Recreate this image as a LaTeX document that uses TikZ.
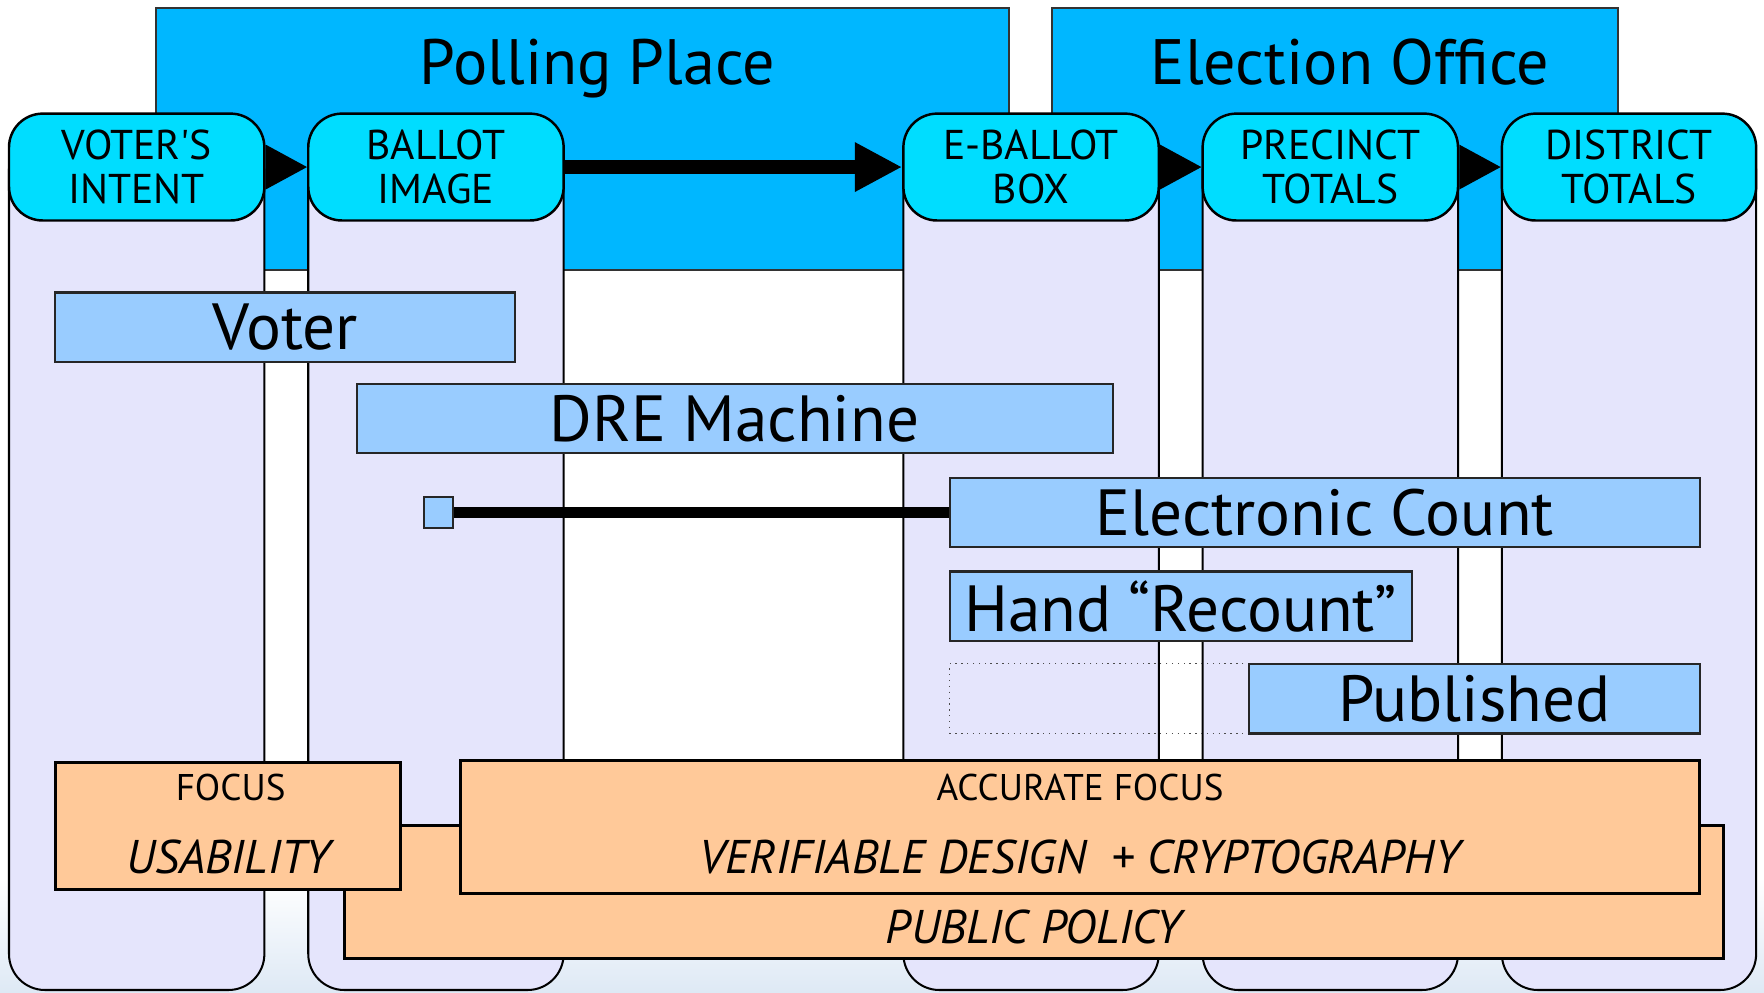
\documentclass[tikz,border=0pt]{standalone}
\usepackage{fontspec}
\setmainfont{PT Sans}
\usetikzlibrary{arrows.meta,calc,fit}
\definecolor{place}{RGB}{0,183,255}
\definecolor{head}{RGB}{0,221,255}
\definecolor{lane}{RGB}{229,229,252}
\definecolor{bar}{RGB}{153,204,255}
\definecolor{orng}{RGB}{255,201,153}
\definecolor{bgblue}{RGB}{222,233,245}
\begin{document}
\begin{tikzpicture}[x=0.5pt,y=-0.5pt,
  placebox/.style={draw=black!80, line width=0.8pt, fill=place},
  lanebody/.style={draw=black, line width=0.9pt, fill=lane, rounded corners=16pt},
  headbox/.style={draw=black, line width=1.1pt, fill=head, rounded corners=15pt, inner sep=0pt},
  headtext/.style={align=center, inner sep=0pt, font=\fontsize{18.5}{19.5}\selectfont},
  barbox/.style={draw=black!85, line width=0.9pt, fill=bar, inner sep=0pt},
  bartext/.style={inner sep=0pt, font=\fontsize{29}{30}\selectfont},
  dotbox/.style={draw=black!70, line width=0.6pt, dotted},
  focusbox/.style={draw=black, line width=1.3pt, fill=orng, inner sep=0pt},
  titletext/.style={font=\fontsize{28.5}{30}\selectfont, anchor=base},
  smalltext/.style={font=\fontsize{16.5}{17}\selectfont},
  bigtext/.style={font=\fontsize{21}{22}\selectfont\itshape},
]
\useasboundingbox (0,0) rectangle (1568,882);
\fill[white] (0,0) rectangle (1568,882);
\shade[top color=white, bottom color=bgblue] (0,780) rectangle (1568,882);

% location boxes
\node[placebox, inner sep=0pt, fit={(139,7)(897,240)}] (polling) {};
\node[titletext] at (531,75) {Polling Place};
\node[placebox, inner sep=0pt, fit={(935,7)(1438,240)}] (office) {};
\node[titletext] at (1200,75) {Election Office};

% lanes
\foreach \a/\b in {8/235, 274/501, 803/1030, 1069/1296, 1335/1561}{
  \path[lanebody] (\a,150) -- (\a,880) -- (\b,880) -- (\b,150);
}

% headers
\node[headbox, fit={(8,101)(235,196)}] (h1) {};
\node[headtext] at (h1.center) {VOTER\textquotesingle S\\INTENT};
\node[headbox, fit={(274,101)(501,196)}] (h2) {};
\node[headtext] at (h2.center) {BALLOT\\IMAGE};
\node[headbox, fit={(803,101)(1030,196)}] (h3) {};
\node[headtext] at (h3.center) {E-BALLOT\\BOX};
\node[headbox, fit={(1069,101)(1296,196)}] (h4) {};
\node[headtext] at (h4.center) {PRECINCT\\TOTALS};
\node[headbox, fit={(1335,101)(1561,196)}] (h5) {};
\node[headtext] at (h5.center) {DISTRICT\\TOTALS};

% arrows between headers
\fill ($(h1.east)+(0,-20)$) -- (h2.west) -- ($(h1.east)+(0,20)$) -- cycle;
\fill ($(h3.east)+(0,-20)$) -- (h4.west) -- ($(h3.east)+(0,20)$) -- cycle;
\fill ($(h4.east)+(0,-20)$) -- (h5.west) -- ($(h4.east)+(0,20)$) -- cycle;
\draw[line width=6.5pt, -{Triangle[length=21pt,width=20.5pt]}] (h2.east) -- (h3.west);

% bars
\node[barbox, fit={(49,260)(458,322)}] (voter) {};
\node[bartext] at (voter.center) {Voter};
\node[barbox, fit={(317,341)(989,403)}] (dre) {};
\node[bartext] at (dre.center) {DRE Machine};
\node[barbox, fit={(844,425)(1511,486)}] (ecount) {};
\node[bartext] at (ecount.center) {Electronic Count};
\node[barbox, fit={(844,508)(1255,570)}] (hand) {};
\node[bartext] at (hand.center) {Hand “Recount”};
\node[dotbox, inner sep=0pt, fit={(844,590)(1110,652)}] (gap) {};
\node[barbox, fit={(1110,590)(1511,652)}] (pub) {};
\node[bartext] at (pub.center) {Published};
\node[barbox, line width=0.8pt, fit={(377,442)(403,469)}] (sq) {};
\draw[line width=5pt] (sq.east) -- (ecount.west);

% focus boxes
\node[focusbox, fit={(306,734)(1532,852)}] (policy) {};
\node[bigtext] at ($(policy.south)+(0,-29)$) {PUBLIC POLICY};
\node[focusbox, fit={(49,678)(356,791)}] (focus) {};
\node[smalltext] at (205,700) {FOCUS};
\node[bigtext] at (203,762) {USABILITY};
\node[focusbox, fit={(409,676)(1511,794)}] (accurate) {};
\node[smalltext] at (960,700) {ACCURATE FOCUS};
\node[bigtext] at (960,762) {VERIFIABLE DESIGN\ \ + CRYPTOGRAPHY};
\end{tikzpicture}
\end{document}
